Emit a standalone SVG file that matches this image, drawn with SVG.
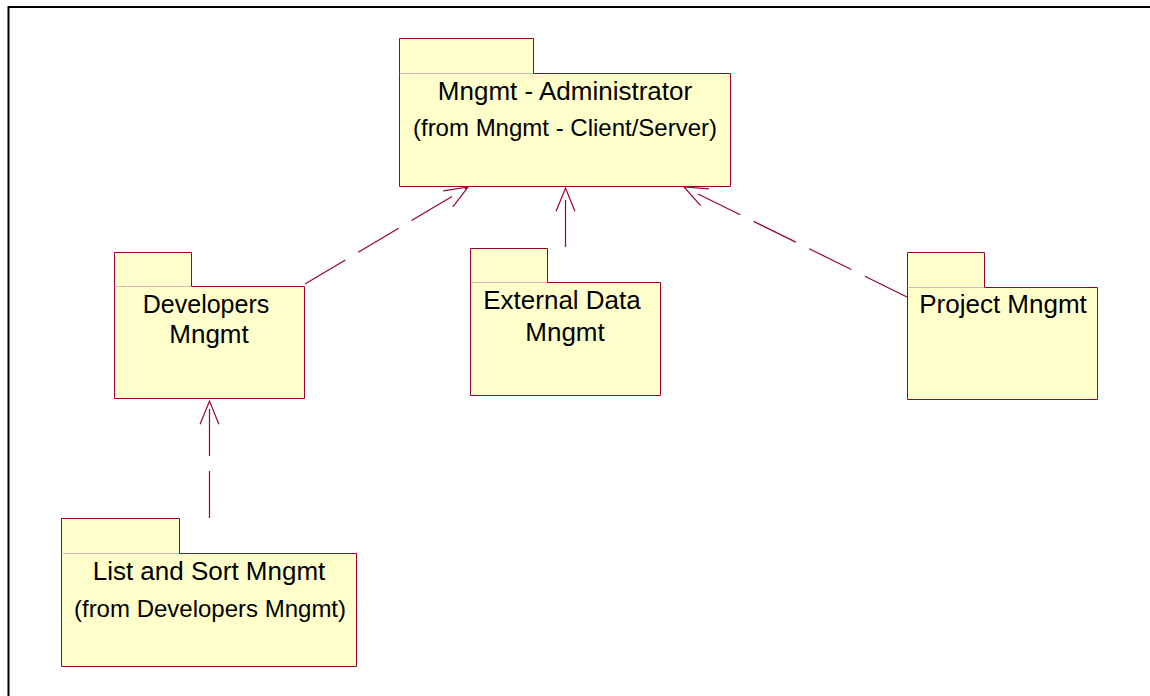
<svg xmlns="http://www.w3.org/2000/svg" width="1150" height="696" viewBox="0 0 1150 696">
  <defs>
    <style>
      .pkg { fill: #FFFFCC; stroke: #990033; stroke-width: 1; }
      .tabline { stroke: #E2B4C0; stroke-width: 1; fill: none; }
      .name { font-family: "Liberation Sans", Arial, sans-serif; font-size: 26px; fill: #000; text-anchor: middle; }
      .from { font-family: "Liberation Sans", Arial, sans-serif; font-size: 24px; fill: #000; text-anchor: middle; }
      .dep { fill: none; stroke: #990033; stroke-width: 1.2; stroke-dasharray: 47 15; }
    </style>
    <!-- open arrowhead for dependency lines -->
    <marker id="open-arrow" markerUnits="userSpaceOnUse" viewBox="-26 -12 28 24" markerWidth="28" markerHeight="24" refX="0" refY="0" orient="auto" overflow="visible">
      <path d="M-23.2,-9.4 L0,0 L-23.2,9.4" fill="none" stroke="#990033" stroke-width="1.2" stroke-dasharray="none"/>
    </marker>
  </defs>

  <rect x="0" y="0" width="1150" height="696" fill="#FFFFFF"/>

  <!-- page frame -->
  <path d="M8.5,696 V7 H1150" fill="none" stroke="#000" stroke-width="2"/>

  <!-- dependencies -->
  <g id="connectors">
    <path class="dep" d="M305,284 L468,187" marker-end="url(#open-arrow)"/>
    <path class="dep" d="M565.5,247 L565.5,188" marker-end="url(#open-arrow)"/>
    <path class="dep" d="M907,297 L684,187" marker-end="url(#open-arrow)"/>
    <path class="dep" d="M209.5,518 L209.5,401" marker-end="url(#open-arrow)"/>
  </g>

  <g id="mngmt-administrator">
    <path class="pkg" d="M399.5,73.5 V186.5 H730.5 V73.5 H533.5 V38.5 H399.5 Z"/>
    <line class="tabline" x1="400" y1="73.5" x2="533" y2="73.5"/>
    <text class="name" x="565" y="100">Mngmt - Administrator</text>
    <text class="from" x="565" y="136">(from Mngmt - Client/Server)</text>
  </g>

  <g id="developers-mngmt">
    <path class="pkg" d="M114.5,286.5 V398.5 H304.5 V286.5 H191.5 V252.5 H114.5 Z"/>
    <line class="tabline" x1="115" y1="286.5" x2="191" y2="286.5"/>
    <text class="name" x="206" y="313" style="font-size:25px">Developers</text>
    <text class="name" x="209" y="343">Mngmt</text>
  </g>

  <g id="external-data-mngmt">
    <path class="pkg" d="M470.5,282.5 V395.5 H660.5 V282.5 H547.5 V248.5 H470.5 Z"/>
    <line class="tabline" x1="471" y1="282.5" x2="547" y2="282.5"/>
    <text class="name" x="562" y="309">External Data</text>
    <text class="name" x="565" y="341">Mngmt</text>
  </g>

  <g id="project-mngmt">
    <path class="pkg" d="M907.5,287.5 V399.5 H1097.5 V287.5 H984.5 V252.5 H907.5 Z"/>
    <line class="tabline" x1="908" y1="287.5" x2="984" y2="287.5"/>
    <text class="name" x="1003" y="313">Project Mngmt</text>
  </g>

  <g id="list-and-sort-mngmt">
    <path class="pkg" d="M61.5,553.5 V666.5 H356.5 V553.5 H179.5 V518.5 H61.5 Z"/>
    <line class="tabline" x1="62" y1="553.5" x2="179" y2="553.5"/>
    <text class="name" x="209" y="580">List and Sort Mngmt</text>
    <text class="from" x="210" y="617">(from Developers Mngmt)</text>
  </g>
</svg>
